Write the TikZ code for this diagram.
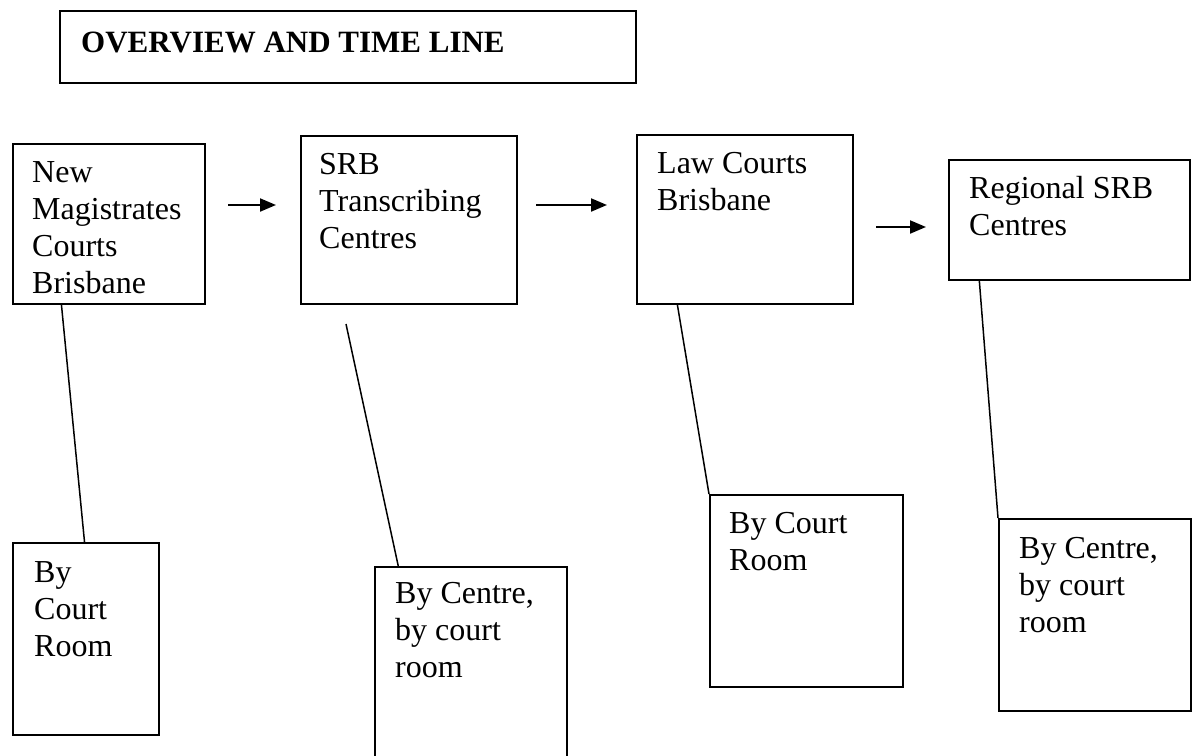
\documentclass[tikz,border=0pt]{standalone}
\usepackage{fontspec}
\setmainfont{Liberation Serif}
\usetikzlibrary{arrows.meta,calc}
\tikzset{
  box/.style={draw, line width=2pt, rectangle, inner sep=0pt, anchor=north west},
  txt/.style={anchor=north west, inner sep=0pt, align=left, font=\fontsize{32}{37}\selectfont},
  ttl/.style={anchor=north west, inner sep=0pt, font=\fontsize{31}{37}\selectfont\bfseries},
  link/.style={line width=1.5pt},
  arr/.style={line width=2pt, -{Triangle[length=16pt,width=13pt]}}
}
\begin{document}
\begin{tikzpicture}[x=1pt,y=-1pt]
\useasboundingbox[fill=white] (0,0) rectangle (1193,755);
% title
\node[box, minimum width=576pt, minimum height=72pt] (title) at (59,10) {};
\node[ttl] (titletext) at (81,31.5) {OVERVIEW AND TIME LINE};
% top boxes
\node[box, minimum width=192pt, minimum height=160pt] (b1) at (12,143) {};
\node[box, minimum width=216pt, minimum height=168pt] (b2) at (300,135) {};
\node[box, minimum width=216pt, minimum height=169pt] (b3) at (636,134) {};
\node[box, minimum width=241pt, minimum height=120pt] (b4) at (948,159) {};
\node[txt] (t1) at (32,161) {New\\Magistrates\\Courts\\Brisbane};
\node[txt] (t2) at (319,153) {SRB\\Transcribing\\Centres};
\node[txt] (t3) at (657,152) {Law Courts\\Brisbane};
\node[txt] (t4) at (969,176) {Regional SRB\\Centres};
% bottom boxes
\node[box, minimum width=146pt, minimum height=192pt] (c1) at (12,542) {};
\node[box, minimum width=192pt, minimum height=200pt] (c2) at (374,566) {};
\node[box, minimum width=193pt, minimum height=192pt] (c3) at (709,494) {};
\node[box, minimum width=192pt, minimum height=192pt] (c4) at (998,518) {};
\node[txt] (u1) at (34,561) {By\\Court\\Room};
\node[txt] (u2) at (395,582) {By Centre,\\by court\\room};
\node[txt] (u3) at (729,512) {By Court\\Room};
\node[txt] (u4) at (1019,537) {By Centre,\\by court\\room};
% arrows
\coordinate (a1s) at (228,205);
\coordinate (a1e) at (276,205);
\coordinate (a2s) at (536,205);
\coordinate (a2e) at (607,205);
\coordinate (a3s) at (876,227);
\coordinate (a3e) at (926,227);
\draw[arr] (a1s) -- (a1e);
\draw[arr] (a2s) -- (a2e);
\draw[arr] (a3s) -- (a3e);
% links
\coordinate (l2s) at (346,324);
\draw[link] ($(b1.south west)!0.255!(b1.south east)$) -- ($(c1.north west)!0.49!(c1.north east)$);
\draw[link] (l2s) -- ($(c2.north west)!0.125!(c2.north east)$);
\draw[link] ($(b3.south west)!0.19!(b3.south east)$) -- (c3.north west);
\draw[link] ($(b4.south west)!0.129!(b4.south east)$) -- (c4.north west);
\end{tikzpicture}
\end{document}
